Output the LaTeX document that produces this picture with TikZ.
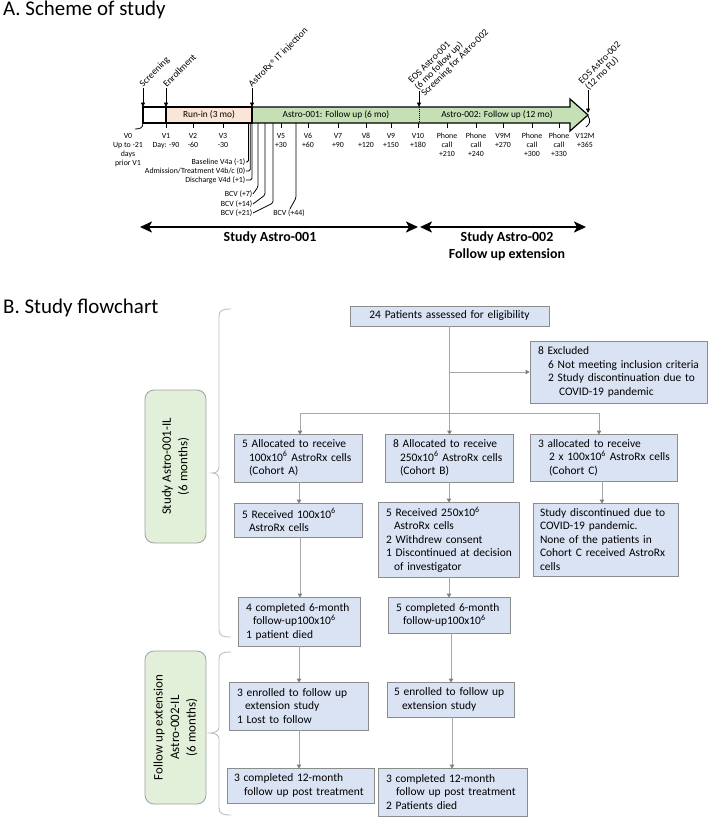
\documentclass[tikz,border=0pt]{standalone}
\usepackage{fontspec}
\setmainfont{Carlito}
\newfontfamily\symf{DejaVu Sans}
\usetikzlibrary{arrows.meta}
\definecolor{peach}{HTML}{FBE5D6}
\definecolor{grnbar}{HTML}{C5E0B4}
\definecolor{boxfill}{HTML}{DAE3F3}
\definecolor{boxline}{HTML}{8C8C8C}
\definecolor{connc}{HTML}{A6A6A6}
\definecolor{arrc}{HTML}{7F7F7F}
\definecolor{grnbox}{HTML}{E2F0D9}
\definecolor{gline}{HTML}{A0A0A0}
\definecolor{brkc}{HTML}{BFBFBF}
\newcommand\bl[1]{\mbox{#1}}
\newcommand\ind[1]{\hspace*{#1bp}}
\newcommand\regmark{\raisebox{2.2bp}{\symf\fontsize{5}{5}\selectfont ®}}
\tikzset{
 box/.style={draw=boxline, fill=boxfill, line width=0.8bp, align=left, inner xsep=8bp, inner ysep=0pt, font=\fontsize{11.5}{13.5}\selectfont},
 gbox/.style={draw=gline, fill=grnbox, rounded corners=9bp, line width=0.8bp, align=center, rotate=90, inner sep=0pt, font=\fontsize{13}{16.5}\selectfont},
 conn/.style={draw=connc, line width=0.8bp},
 carr/.style={conn, -{Triangle[length=4bp,width=4.5bp,color=arrc]}},
 tickln/.style={line width=0.8bp},
 tl/.style={font=\fontsize{7.9}{9.2}\selectfont, align=center, anchor=north, inner sep=0pt},
 barlab/.style={font=\fontsize{9.4}{10}\selectfont, inner sep=0pt},
 rot/.style={font=\fontsize{9.5}{9.5}\selectfont, rotate=45, anchor=west, inner sep=0.5bp},
 side/.style={font=\fontsize{7.9}{9.2}\selectfont, anchor=east, inner sep=0.5bp},
 sideln/.style={line width=0.8bp, rounded corners=1.5bp},
 downarr/.style={line width=0.8bp, -{Triangle[length=4.5bp,width=4bp]}},
 bigarr/.style={line width=2.6bp, {Stealth[length=12bp,width=11bp,inset=3bp]}-{Stealth[length=12bp,width=11bp,inset=3bp]}},
 brk/.style={draw=brkc, line width=0.9bp},
 title/.style={anchor=base west, font=\fontsize{21}{24}\selectfont, inner sep=0pt},
 bold/.style={font=\fontsize{14}{17}\selectfont\bfseries, align=center, inner sep=0pt},
}
\begin{document}
\begin{tikzpicture}[x=1bp,y=-1bp]
\useasboundingbox[fill=white] (0,0) rectangle (708,818);

% ---------------- Part A ----------------
\node[title] (tA) at (3,16) {A. Scheme of study};

% bar
\draw[line width=1.2bp, fill=white] (143,107) rectangle (166,123);
\draw[line width=1.2bp, fill=peach] (166,107) rectangle (252,123);
\draw[line width=1.2bp, fill=grnbar] (252,107) -- (570,107) -- (570,99) -- (588,115) -- (570,131) -- (570,123) -- (252,123) -- cycle;
\draw[line width=1.6bp] (252,107) -- (252,123);
\draw[dash pattern=on 1bp off 1bp, line width=0.6bp] (419,107) -- (419,123);

\node[barlab] (runin) at (209,115) {Run-in (3 mo)};
\node[barlab] (fu1) at (336,115) {Astro-001: Follow up (6 mo)};
\node[barlab] (fu2) at (497,115) {Astro-002: Follow up (12 mo)};

% event arrows above bar
\coordinate (e1) at (143,88); \coordinate (e1b) at (143,107);
\coordinate (e2) at (166,88); \coordinate (e2b) at (166,107);
\coordinate (e3) at (252,88); \coordinate (e3b) at (252,107);
\coordinate (e4) at (419,91); \coordinate (e4b) at (419,107);
\coordinate (e5) at (588,90); \coordinate (e5b) at (588,113);
\draw[downarr] (e1) -- (e1b);
\draw[downarr] (e2) -- (e2b);
\draw[downarr] (e3) -- (e3b);
\draw[downarr] (e4) -- (e4b);
\draw[downarr] (e5) -- (e5b);
\node[rot] (lscr) at (141,86) {Screening};
\node[rot] (lenr) at (164,86) {Enrollment};
\node[rot] (linj) at (250,86) {AstroRx\regmark{} IT injection};
\node[rot] (leos1a) at (409.3,82.3) {EOS Astro-001};
\node[rot] (leos1b) at (416,89) {(6 mo follow up)};
\node[rot] (leos1c) at (422.7,95.7) {Screening for Astro-002};
\node[rot] (leos2a) at (579.6,82.6) {EOS Astro-002};
\node[rot] (leos2b) at (586.4,89.4) {(12 mo FU)};

% ticks and visit labels
\foreach \x in {166,193,223,281,308,338,366,391,418,447,476,503,532,559}
  \draw[tickln] (\x,123) -- (\x,128);
\draw[tickln] (143,123) .. controls (143,128) and (140,129) .. (135,129);
\draw[tickln] (588,116) .. controls (591,121) and (590,124) .. (586,127);
\foreach \x/\t in {128/{V0\\Up to -21\\days\\prior V1}, 166/{V1\\Day: -90}, 193/{V2\\-60}, 223/{V3\\-30},
  281/{V5\\+30}, 308/{V6\\+60}, 338/{V7\\+90}, 366/{V8\\+120}, 391/{V9\\+150}, 418/{V10\\+180},
  447/{Phone\\call\\+210}, 476/{Phone\\call\\+240}, 503/{V9M\\+270}, 532/{Phone\\call\\+300},
  559/{Phone\\call\\+330}, 585/{V12M\\+365}}
  \node[tl] (v\x) at (\x,133) {\t};

% side labels around V4
\node[side] (bl4a) at (246,162) {Baseline V4a (-1)};
\node[side] (ad4) at (246,171) {Admission/Treatment V4b/c (0)};
\node[side] (dc4) at (246,180) {Discharge V4d (+1)};
\coordinate (k1) at (248.5,123); \coordinate (k2) at (250.3,123); \coordinate (k3) at (252,123);
\draw[sideln] (bl4a.east) -| (k1);
\draw[sideln] (ad4.east) -| (k2);
\draw[sideln] (dc4.east) -| (k3);
\node[side] (b7) at (253,194) {BCV (+7)};
\node[side] (b14) at (253,204) {BCV (+14)};
\node[side] (b21) at (253,213) {BCV (+21)};
\node[font=\fontsize{7.9}{9.2}\selectfont, inner sep=0.5bp] (b44) at (289,213) {BCV (+44)};
\draw[sideln] (b7.east) -- (258,187) -- (258,123);
\draw[sideln] (b14.east) -- (265,195) -- (265,123);
\draw[sideln] (b21.east) -- (273,203) -- (273,123);
\draw[sideln] ([xshift=1bp]b44.north) -- (296,198) -- (296,123);

% study span arrows
\coordinate (s1a) at (140,227); \coordinate (s1b) at (418,227);
\coordinate (s2a) at (420,227); \coordinate (s2b) at (586,227);
\draw[bigarr] (s1a) -- (s1b);
\draw[bigarr] (s2a) -- (s2b);
\node[bold] (st1) at (270,238) {Study Astro-001};
\node[bold] (st2) at (507,246.5) {Study Astro-002\\Follow up extension};

% ---------------- Part B ----------------
\node[title] (tB) at (3,313) {B. Study flowchart};

% brackets
\draw[brk] (231,309) .. controls (223,309) and (219,310) .. (219,316) -- (219,467)
  .. controls (219,471) and (216,473) .. (212,473) .. controls (216,473) and (219,475) .. (219,479)
  -- (219,630) .. controls (219,636) and (223,637) .. (231,637);
\draw[brk] (231,652) .. controls (223,652) and (219,653) .. (219,659) -- (219,727)
  .. controls (219,731) and (215,733) .. (210,733) .. controls (215,733) and (219,735) .. (219,739)
  -- (219,808) .. controls (219,814) and (223,815) .. (231,815);

\node[gbox, minimum width=153bp, minimum height=61bp] (g1) at (175.5,466.5) {Study Astro-001-IL\\(6 months)};
\node[gbox, minimum width=153bp, minimum height=61bp] (g2) at (175.5,727.5) {Follow up extension\\Astro-002-IL\\(6 months)};

% boxes
\node[box, align=center, text width=183bp, minimum height=20bp] (n24) at (449.5,316) {24 Patients assessed for eligibility};
\node[box, text width=161bp, minimum height=62bp] (exc) at (618.5,372) {\bl{8 Excluded}\\\bl{\ind{10}6 Not meeting inclusion criteria}\\\bl{\ind{10}2 Study discontinuation due to}\\\bl{\ind{21}COVID-19 pandemic}};

\node[box, text width=112bp, minimum height=48bp] (A) at (298,458) {\bl{5 Allocated to receive}\\\bl{\ind{7}100x10\textsuperscript{6} AstroRx cells}\\\bl{\ind{7}(Cohort A)}};
\node[box, text width=112bp, minimum height=48bp] (B) at (449,458) {\bl{8 Allocated to receive}\\\bl{\ind{7}250x10\textsuperscript{6} AstroRx cells}\\\bl{\ind{7}(Cohort B)}};
\node[box, text width=131bp, minimum height=47bp] (C) at (603.5,457.5) {\bl{3 allocated to receive}\\\bl{\ind{11}2 x 100x10\textsuperscript{6} AstroRx cells}\\\bl{\ind{11}(Cohort C)}};

\node[box, text width=112bp, minimum height=34bp] (A2) at (298,520) {\bl{5 Received 100x10\textsuperscript{6}}\\\bl{\ind{7}AstroRx cells}};
\node[box, text width=125bp, minimum height=75bp] (B2) at (448.5,539.5) {\bl{5 Received 250x10\textsuperscript{6}}\\\bl{\ind{8}AstroRx cells}\\\bl{2 Withdrew consent}\\\bl{1 Discontinued at decision}\\\bl{\ind{8}of investigator}};
\node[box, inner xsep=7bp, text width=131bp, minimum height=73bp] (C2) at (605.5,539.5) {\bl{Study discontinued due to}\\\bl{COVID-19 pandemic.}\\\bl{None of the patients in}\\\bl{Cohort C received AstroRx}\\\bl{cells}};

\node[box, text width=106bp, minimum height=49bp] (A3) at (299,621.5) {\bl{4 completed 6-month}\\\bl{\ind{7}follow-up100x10\textsuperscript{6}}\\\bl{1 patient died}};
\node[box, text width=106bp, minimum height=36bp] (B3) at (449,615) {\bl{5 completed 6-month}\\\bl{\ind{7}follow-up100x10\textsuperscript{6}}};

\node[box, text width=123bp, minimum height=48bp] (A4) at (298.5,706) {\bl{3 enrolled to follow up}\\\bl{\ind{8}extension study}\\\bl{1 Lost to follow}};
\node[box, inner xsep=7bp, text width=113bp, minimum height=35bp] (B4) at (450.5,699.5) {\bl{5 enrolled to follow up}\\\bl{\ind{8}extension study}};

\node[box, inner xsep=7bp, text width=133bp, minimum height=35bp] (A5) at (300.5,785.5) {\bl{3 completed 12-month}\\\bl{\ind{10}follow up post treatment}};
\node[box, text width=133bp, minimum height=48bp] (B5) at (452.5,792) {\bl{3 completed 12-month}\\\bl{\ind{10}follow up post treatment}\\\bl{2 Patients died}};

% connectors
\coordinate (j1) at (449.5,372);
\coordinate (j2) at (449.5,413);
\coordinate (jA) at (300,413);
\coordinate (jC) at (599,413);
\draw[conn] (n24.south) -- (j2);
\draw[carr] (j1) -- (exc.west);
\draw[conn] (jA) -- (jC);
\draw[carr] (jA) -- ([yshift=-1bp]jA |- A.north);
\draw[carr] (j2) -- ([yshift=-1bp]j2 |- B.north);
\draw[carr] (jC) -- ([yshift=-1bp]jC |- C.north);

\draw[carr] ([xshift=1bp]A.south) -- ([xshift=1bp,yshift=-1bp]A.south |- A2.north);
\draw[carr] ([xshift=2bp]A2.south) -- ([xshift=2bp,yshift=-1bp]A2.south |- A3.north);
\draw[carr] (A3.south) -- ([yshift=-1bp]A3.south |- A4.north);
\draw[carr] ([xshift=0.5bp]A4.south) -- ([xshift=0.5bp,yshift=-1bp]A4.south |- A5.north);

\draw[carr] (B.south) -- ([yshift=-1bp]B.south |- B2.north);
\draw[carr] ([xshift=0.5bp]B2.south) -- ([xshift=0.5bp,yshift=-1bp]B2.south |- B3.north);
\draw[carr] ([xshift=2bp]B3.south) -- ([xshift=2bp,yshift=-1bp]B3.south |- B4.north);
\draw[carr] ([xshift=1.5bp]B4.south) -- ([xshift=1.5bp,yshift=-1bp]B4.south |- B5.north);

\draw[carr] ([xshift=-1.5bp]C.south) -- ([xshift=-1.5bp,yshift=-1bp]C.south |- C2.north);
\end{tikzpicture}
\end{document}
